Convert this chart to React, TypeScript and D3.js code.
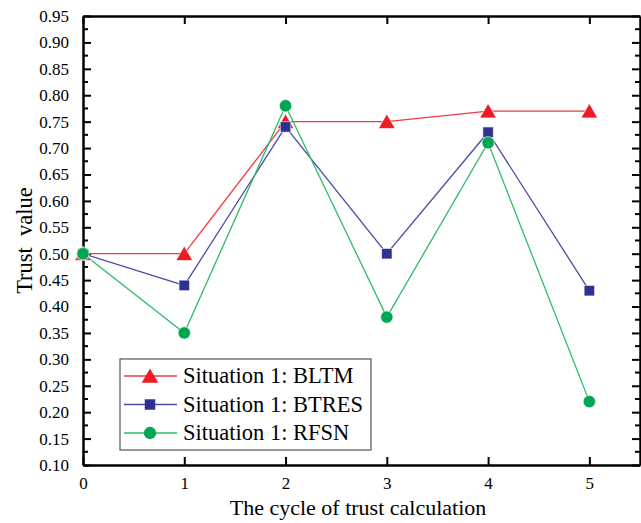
import { useEffect, useRef } from "react";
import * as d3 from "d3";

const cycles = [0, 1, 2, 3, 4, 5];
const bltm = [0.5, 0.5, 0.75, 0.75, 0.77, 0.77];
const btres = [0.5, 0.44, 0.74, 0.5, 0.73, 0.43];
const rfsn = [0.5, 0.35, 0.78, 0.38, 0.71, 0.22];
const seriesNames = ["Situation 1: BLTM", "Situation 1: BTRES", "Situation 1: RFSN"];
const yTicks = [0.1, 0.15, 0.2, 0.25, 0.3, 0.35, 0.4, 0.45, 0.5, 0.55, 0.6, 0.65, 0.7, 0.75, 0.8, 0.85, 0.9, 0.95];

const W = 641;
const H = 523;
const margin = { top: 16, right: 1, bottom: 58, left: 83 };
const font = "Liberation Serif, Times New Roman, serif";

const App = () => {
  const svgRef = useRef(null);

  useEffect(() => {
    const svg = d3.select(svgRef.current);
    svg.selectAll("*").remove();

    const x = d3.scaleLinear().domain([0, 5.5]).range([margin.left, W - margin.right]);
    const y = d3.scaleLinear().domain([0.1, 0.95]).range([H - margin.bottom, margin.top]);

    const series = [
      { name: seriesNames[0], values: bltm, color: "#ed1c24", line: "#ee3a42", symbol: d3.symbolTriangle, size: 120 },
      { name: seriesNames[1], values: btres, color: "#2e3192", line: "#4a4ea6", symbol: d3.symbolSquare, size: 110 },
      { name: seriesNames[2], values: rfsn, color: "#00a651", line: "#2dbb6c", symbol: d3.symbolCircle, size: 120 },
    ];

    const minor = d3.range(0.125, 0.95, 0.05);

    // axes, ticks pointing inward
    const gl = svg.append("g").attr("transform", `translate(${margin.left},0)`);
    gl.call(d3.axisLeft(y).tickValues(yTicks).tickFormat(d3.format(".2f")).tickSizeInner(-8).tickSizeOuter(0).tickPadding(14));
    gl.selectAll(".minor").data(minor).join("line")
      .attr("x1", 0).attr("x2", 5).attr("y1", (d) => y(d)).attr("y2", (d) => y(d))
      .attr("stroke", "#000").attr("stroke-width", 2);

    const gr = svg.append("g").attr("transform", `translate(${W - margin.right},0)`);
    gr.call(d3.axisRight(y).tickValues(yTicks).tickFormat(() => "").tickSizeInner(-8).tickSizeOuter(0));
    gr.selectAll(".minor").data(minor).join("line")
      .attr("x1", 0).attr("x2", -5).attr("y1", (d) => y(d)).attr("y2", (d) => y(d))
      .attr("stroke", "#000").attr("stroke-width", 2);

    const gb = svg.append("g").attr("transform", `translate(0,${H - margin.bottom})`);
    gb.call(d3.axisBottom(x).tickValues(cycles).tickFormat(d3.format("d")).tickSizeInner(-8).tickSizeOuter(0).tickPadding(12));

    const gt = svg.append("g").attr("transform", `translate(0,${margin.top})`);
    gt.call(d3.axisTop(x).tickValues(cycles).tickFormat(() => "").tickSizeInner(-8).tickSizeOuter(0));

    svg.selectAll("g").attr("font-family", null);
    svg.selectAll(".domain").attr("stroke-width", 2.5);
    svg.selectAll(".tick line").attr("stroke-width", 2);
    svg.selectAll(".tick text").style("font-family", font).style("font-size", "17px").attr("fill", "#000");

    // axis titles
    svg.append("text")
      .attr("x", 358).attr("y", 515)
      .attr("text-anchor", "middle").style("font-family", font).style("font-size", "22px")
      .text("The cycle of trust calculation");
    svg.append("text")
      .attr("transform", `translate(32,${(margin.top + H - margin.bottom) / 2}) rotate(-90)`)
      .attr("text-anchor", "middle").style("font-family", font).style("font-size", "22.5px")
      .style("white-space", "pre")
      .text("Trust  value");

    // lines and markers
    const line = d3.line<number>().x((_, i) => x(cycles[i])).y((d) => y(d));
    series.forEach((s) => {
      svg.append("path").attr("d", line(s.values)).attr("fill", "none")
        .attr("stroke", s.line).attr("stroke-width", 1.3);
    });
    series.forEach((s) => {
      svg.append("g").selectAll("path").data(s.values).join("path")
        .attr("transform", (d, i) => `translate(${x(cycles[i])},${y(d) + (s.symbol === d3.symbolTriangle ? 2 : 0)})`)
        .attr("d", d3.symbol().type(s.symbol).size(s.size)())
        .attr("fill", s.color).attr("stroke", "#fff").attr("stroke-width", 0.6);
    });

    // legend
    const lg = svg.append("g").attr("transform", "translate(120,359)");
    lg.append("rect").attr("width", 251).attr("height", 91)
      .attr("fill", "#fff").attr("stroke", "#555").attr("stroke-width", 1.2);
    series.forEach((s, i) => {
      const row = lg.append("g").attr("transform", `translate(0,${17 + i * 28.5})`);
      row.append("line").attr("x1", 4).attr("x2", 57).attr("stroke", s.line).attr("stroke-width", 1.3);
      row.append("path").attr("transform", `translate(30,${s.symbol === d3.symbolTriangle ? 2 : 0})`)
        .attr("d", d3.symbol().type(s.symbol).size(s.size)()).attr("fill", s.color);
      row.append("text").attr("x", 63).attr("y", 7).style("font-family", font).style("font-size", "22.5px")
        .text(s.name);
    });
  }, []);

  return <svg ref={svgRef} width={W} height={H} style={{ position: "absolute", left: 0, top: 0, background: "#fff" }}></svg>;
};

export default App;
